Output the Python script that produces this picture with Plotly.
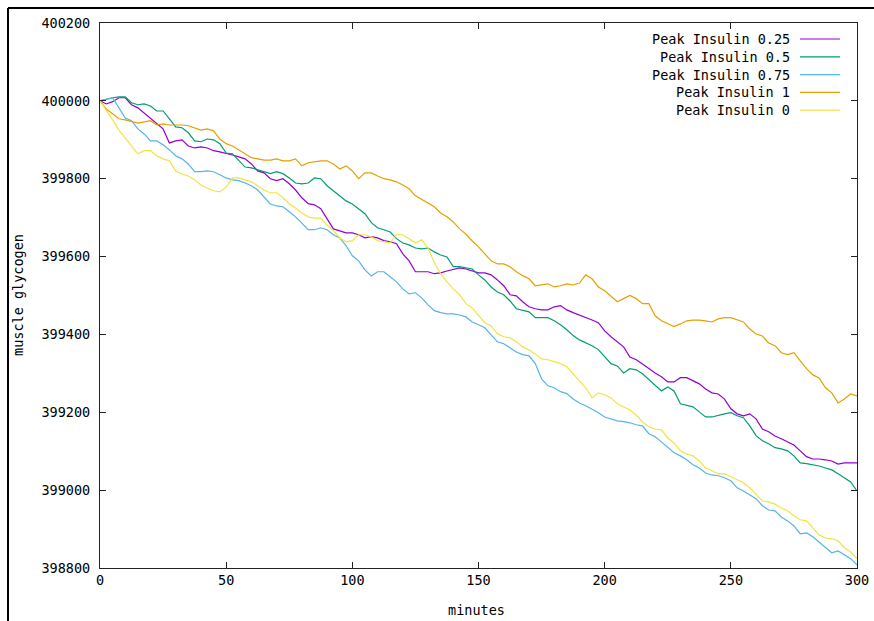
import plotly.graph_objects as go

# Simulated muscle glycogen over a 300-minute run, sampled every 2.5 minutes,
# one trace per insulin peak level
minutes = [i * 2.5 for i in range(121)]

peak_025 = [400000, 399992, 399998, 400008, 400008, 399990, 399982, 399969, 399956, 399943,
            399928, 399892, 399897, 399900, 399884, 399879, 399882, 399879, 399872, 399869,
            399864, 399861, 399856, 399851, 399838, 399820, 399815, 399800, 399795, 399800,
            399787, 399771, 399751, 399736, 399733, 399723, 399697, 399671, 399666, 399661,
            399661, 399656, 399648, 399651, 399648, 399641, 399638, 399633, 399607, 399589,
            399561, 399561, 399561, 399556, 399558, 399563, 399568, 399571, 399568, 399563,
            399558, 399558, 399553, 399540, 399525, 399502, 399499, 399484, 399471, 399466,
            399463, 399463, 399471, 399474, 399463, 399456, 399450, 399445, 399437, 399430,
            399409, 399394, 399381, 399368, 399342, 399335, 399324, 399312, 399301, 399291,
            399278, 399278, 399289, 399289, 399281, 399273, 399260, 399250, 399247, 399234,
            399209, 399196, 399191, 399196, 399183, 399157, 399150, 399139, 399132, 399124,
            399116, 399101, 399086, 399080, 399080, 399078, 399075, 399067, 399070, 399070,
            399070]

peak_05 = [400000, 400005, 400008, 400010, 400010, 399995, 399990, 399992, 399987, 399974,
           399974, 399954, 399933, 399931, 399918, 399897, 399895, 399902, 399900, 399890,
           399866, 399864, 399846, 399830, 399828, 399823, 399820, 399813, 399818, 399813,
           399802, 399789, 399787, 399789, 399802, 399800, 399782, 399769, 399756, 399743,
           399735, 399722, 399710, 399687, 399674, 399669, 399663, 399646, 399635, 399630,
           399622, 399620, 399622, 399612, 399604, 399599, 399574, 399574, 399571, 399568,
           399553, 399540, 399522, 399509, 399502, 399486, 399466, 399461, 399458, 399443,
           399443, 399443, 399435, 399425, 399412, 399397, 399386, 399379, 399371, 399361,
           399342, 399325, 399319, 399301, 399312, 399309, 399299, 399284, 399268, 399255,
           399265, 399255, 399222, 399217, 399214, 399201, 399188, 399188, 399193, 399196,
           399199, 399191, 399186, 399165, 399140, 399127, 399119, 399109, 399106, 399101,
           399088, 399070, 399068, 399065, 399062, 399057, 399052, 399042, 399032, 399021,
           398998]

peak_075 = [400000, 400005, 400008, 399982, 399956, 399949, 399928, 399915, 399897, 399897,
            399887, 399874, 399859, 399851, 399838, 399818, 399818, 399820, 399818, 399810,
            399802, 399797, 399795, 399789, 399782, 399771, 399753, 399735, 399730, 399728,
            399715, 399702, 399686, 399669, 399669, 399674, 399669, 399656, 399648, 399628,
            399602, 399589, 399566, 399550, 399561, 399561, 399548, 399535, 399517, 399504,
            399507, 399494, 399476, 399461, 399456, 399453, 399453, 399450, 399445, 399432,
            399425, 399417, 399399, 399381, 399376, 399366, 399355, 399348, 399345, 399325,
            399286, 399268, 399263, 399253, 399248, 399234, 399224, 399217, 399209, 399199,
            399188, 399183, 399178, 399176, 399173, 399168, 399165, 399145, 399137, 399124,
            399109, 399096, 399088, 399078, 399065, 399057, 399044, 399039, 399037, 399032,
            399024, 399006, 398998, 398988, 398978, 398960, 398949, 398947, 398931, 398921,
            398908, 398888, 398890, 398880, 398867, 398852, 398839, 398844, 398834, 398824,
            398808]

peak_1 = [400000, 399979, 399967, 399954, 399951, 399946, 399943, 399946, 399949, 399938,
          399941, 399938, 399938, 399938, 399936, 399931, 399925, 399928, 399923, 399902,
          399890, 399884, 399874, 399866, 399854, 399851, 399848, 399848, 399851, 399846,
          399846, 399851, 399833, 399841, 399843, 399846, 399846, 399838, 399825, 399833,
          399820, 399800, 399815, 399815, 399807, 399800, 399797, 399792, 399784, 399774,
          399756, 399746, 399738, 399728, 399712, 399702, 399689, 399671, 399658, 399640,
          399625, 399607, 399589, 399581, 399581, 399574, 399561, 399551, 399543, 399525,
          399527, 399530, 399522, 399525, 399530, 399527, 399532, 399553, 399543, 399522,
          399512, 399497, 399484, 399492, 399500, 399492, 399479, 399479, 399448, 399435,
          399427, 399420, 399427, 399435, 399437, 399437, 399435, 399432, 399440, 399443,
          399443, 399437, 399432, 399414, 399401, 399396, 399378, 399371, 399353, 399348,
          399353, 399332, 399312, 399296, 399288, 399263, 399250, 399224, 399234, 399247,
          399242]

peak_0 = [400000, 399977, 399951, 399925, 399905, 399884, 399864, 399872, 399872, 399859,
          399851, 399846, 399820, 399812, 399807, 399797, 399784, 399776, 399769, 399766,
          399779, 399802, 399802, 399797, 399792, 399782, 399771, 399764, 399764, 399751,
          399735, 399725, 399712, 399702, 399699, 399699, 399681, 399666, 399648, 399638,
          399641, 399656, 399656, 399651, 399641, 399638, 399635, 399656, 399656, 399646,
          399635, 399643, 399622, 399584, 399556, 399535, 399517, 399502, 399479, 399468,
          399450, 399430, 399422, 399402, 399394, 399391, 399381, 399368, 399360, 399350,
          399337, 399335, 399330, 399325, 399317, 399299, 399281, 399263, 399237, 399250,
          399245, 399237, 399222, 399214, 399206, 399193, 399175, 399163, 399157, 399155,
          399134, 399121, 399101, 399093, 399088, 399075, 399057, 399050, 399042, 399042,
          399034, 399026, 399019, 399006, 398990, 398972, 398970, 398964, 398954, 398947,
          398934, 398924, 398921, 398903, 398885, 398877, 398875, 398870, 398852, 398841,
          398824]

series_names = ["Peak Insulin 0.25", "Peak Insulin 0.5", "Peak Insulin 0.75",
                "Peak Insulin 1", "Peak Insulin 0"]
series_values = [peak_025, peak_05, peak_075, peak_1, peak_0]
series_colors = ["#9400d3", "#009e73", "#56b4e9", "#e69f00", "#f0e442"]

y_ticks = [398800, 399000, 399200, 399400, 399600, 399800, 400000, 400200]
x_ticks = [0, 50, 100, 150, 200, 250, 300]

FONT = "DejaVu Sans Mono"
W, H = 874, 621
ML, MR, MT, MB = 100, 17, 23, 53
PW, PH = W - ML - MR, H - MT - MB


def px_to_paper_x(px):
    return (px - ML) / PW


def px_to_paper_y(py):
    return (H - MB - py) / PH


fig = go.Figure()
for name, vals, col in zip(series_names, series_values, series_colors):
    fig.add_trace(go.Scatter(x=minutes[:len(vals)], y=vals, mode="lines", name=name,
                             line=dict(color=col, width=1.2), showlegend=False))

# Key in the top-right corner: right-aligned label followed by a line sample
shapes = []
annotations = []
for i, (name, col) in enumerate(zip(series_names, series_colors)):
    ry = px_to_paper_y(39 + i * 17.8)
    annotations.append(dict(text=name, x=px_to_paper_x(792), y=ry, xref="paper", yref="paper",
                            xanchor="right", yanchor="middle", showarrow=False,
                            font=dict(family=FONT, size=13.5, color="#000")))
    shapes.append(dict(type="line", xref="paper", yref="paper",
                       x0=px_to_paper_x(800), x1=px_to_paper_x(840), y0=ry, y1=ry,
                       line=dict(color=col, width=1.2)))

# Axis titles
annotations.append(dict(text="minutes", x=px_to_paper_x(476), y=px_to_paper_y(610),
                        xref="paper", yref="paper", showarrow=False,
                        xanchor="center", yanchor="middle",
                        font=dict(family=FONT, size=13.5, color="#000")))
annotations.append(dict(text="muscle glycogen", x=px_to_paper_x(18), y=px_to_paper_y(295),
                        xref="paper", yref="paper", showarrow=False, textangle=-90,
                        xanchor="center", yanchor="middle",
                        font=dict(family=FONT, size=13.5, color="#000")))

# Outer frame on the left and top edges of the canvas
shapes.append(dict(type="line", xref="paper", yref="paper",
                   x0=px_to_paper_x(8), x1=px_to_paper_x(8),
                   y0=px_to_paper_y(8), y1=px_to_paper_y(625),
                   line=dict(color="#000", width=2)))
shapes.append(dict(type="line", xref="paper", yref="paper",
                   x0=px_to_paper_x(8), x1=px_to_paper_x(880),
                   y0=px_to_paper_y(8), y1=px_to_paper_y(8),
                   line=dict(color="#000", width=2)))

axis_common = dict(showgrid=False, zeroline=False, showline=True, linecolor="#222",
                   linewidth=1.2, mirror="ticks", ticks="inside", ticklen=6,
                   tickcolor="#222", tickwidth=1.2,
                   tickfont=dict(family=FONT, size=13.5, color="#000"))

fig.update_layout(
    width=W, height=H,
    margin=dict(l=ML, r=MR, t=MT, b=MB, autoexpand=False),
    paper_bgcolor="white", plot_bgcolor="white",
    xaxis=dict(range=[0, 300], tickvals=x_ticks, ticklabelstandoff=0, **axis_common),
    yaxis=dict(range=[398800, 400200], tickvals=y_ticks, ticklabelstandoff=6,
               tickformat="d", **axis_common),
    shapes=shapes, annotations=annotations,
)

fig.write_html("out.html")
